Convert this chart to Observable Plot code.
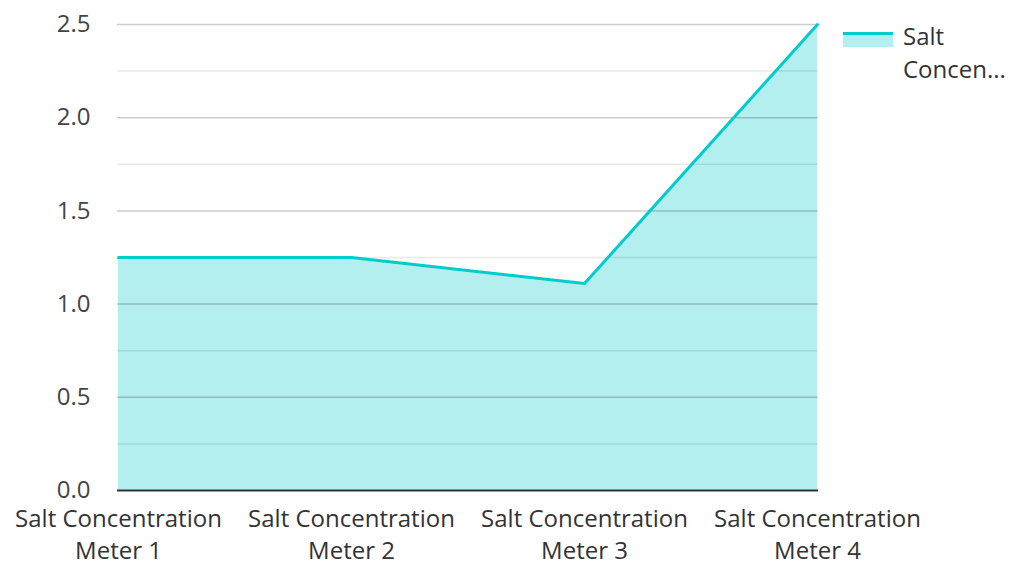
<!DOCTYPE html>
<html><head><meta charset="utf-8">
<script src="https://cdn.jsdelivr.net/npm/d3@7"></script>
<script src="https://cdn.jsdelivr.net/npm/@observablehq/plot@0.6"></script>
<style>
body{margin:0;background:#fff;font-family:"Open Sans",sans-serif;}
#wrap{position:relative;width:1010px;height:562px;}
#legend{position:absolute;left:843px;top:19px;display:flex;align-items:flex-start;font-size:24px;color:#333;line-height:33px;}
#sw{width:50px;height:15px;margin-top:13px;margin-right:10px;background:#b2efee;border-top:3px solid #00cccc;box-sizing:border-box;}
</style></head>
<body><div id="wrap"><div id="legend"><div id="sw"></div><div>Salt<br>Concen...</div></div></div>
<script>
const categories = ["Salt Concentration\nMeter 1","Salt Concentration\nMeter 2","Salt Concentration\nMeter 3","Salt Concentration\nMeter 4"];
const values = [1.25, 1.25, 1.11, 2.5];
const majorTicks = [0, 0.5, 1.0, 1.5, 2.0, 2.5];
const minorTicks = [0.25, 0.75, 1.25, 1.75, 2.25];
const data = categories.map((c,i)=>({cat:c, v:values[i]}));
const chart = Plot.plot({
  width:1010, height:562,
  marginLeft:117, marginRight:192, marginTop:24, marginBottom:72,
  style:{fontFamily:"Open Sans, sans-serif", fontSize:"24px", color:"#444", background:"transparent", overflow:"visible"},
  x:{type:"point", domain:categories, padding:0, label:null},
  y:{domain:[0,2.5], label:null},
  marks:[
    Plot.areaY(data,{x:"cat", y:"v", fill:"#b2efee"}),
    Plot.ruleY(minorTicks,{stroke:"#000", strokeOpacity:0.09, strokeWidth:1.5}),
    Plot.ruleY(majorTicks.filter(d=>d>0),{stroke:"#000", strokeOpacity:0.2, strokeWidth:1.5}),
    Plot.lineY(data,{x:"cat", y:"v", stroke:"#00cccc", strokeWidth:3}),
    Plot.ruleY([0],{stroke:"#333", strokeWidth:2}),
    Plot.axisY({ticks:majorTicks, tickSize:0, tickPadding:27, tickFormat:d=>d.toFixed(1), fontSize:24, fill:"#444"}),
    Plot.axisX({tickSize:0, tickPadding:14, fontSize:24, fill:"#333", lineHeight:1.34})
  ]
});
document.getElementById("wrap").appendChild(chart);
chart.style.position="absolute"; chart.style.left="0"; chart.style.top="0";
</script></body></html>
